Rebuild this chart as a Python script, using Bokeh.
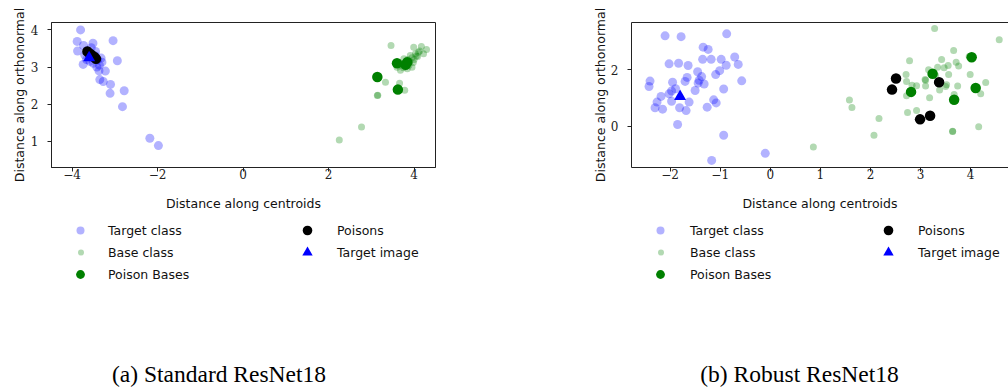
from bokeh.plotting import figure
from bokeh.models import (Range1d, FixedTicker, CustomJSTickFormatter, Legend,
                          LegendItem, Label, LinearAxis)
from bokeh.layouts import row, column
from bokeh.embed import file_html
from bokeh.resources import INLINE

# ---------------- data: (a) Standard ResNet18 ----------------
a_target_x = [-3.80, -3.88, -3.87, -3.73, -3.51, -3.04, -3.74, -2.94, -3.30, -3.22,
              -3.37, -3.35, -3.27, -3.10, -3.11, -2.78, -2.82, -2.18, -1.98,
              -3.65, -3.60, -3.55, -3.45, -3.40, -3.50, -3.66, -3.32, -3.36, -3.70,
              -3.45, -3.42, -3.58]
a_target_y = [4.00, 3.69, 3.43, 3.58, 3.64, 3.71, 3.07, 3.17, 3.13, 2.89,
              2.90, 2.66, 2.61, 2.53, 2.29, 2.36, 1.93, 1.08, 0.88,
              3.44, 3.35, 3.52, 3.30, 3.20, 3.10, 3.20, 3.24, 3.05, 3.32,
              3.42, 3.00, 3.15]
a_base_x = [3.46, 3.99, 4.17, 4.29, 4.13, 4.22, 4.03, 3.91, 3.76, 3.60, 3.68, 3.84,
            3.95, 3.33, 3.66, 3.78, 3.14, 3.15, 2.77, 2.25, 3.85, 3.95, 4.05, 3.70,
            3.80, 3.90, 4.10, 3.75, 3.65, 4.00, 3.88, 4.08, 3.98]
a_base_y = [3.58, 3.53, 3.55, 3.47, 3.43, 3.36, 3.36, 3.31, 3.22, 2.99, 2.91, 2.95,
            2.99, 2.59, 2.56, 2.37, 2.23, 2.24, 1.38, 1.03, 3.20, 3.25, 3.30, 3.05,
            3.10, 3.15, 3.40, 2.98, 3.12, 3.20, 3.05, 3.28, 3.12]
a_pbase_x = [3.60, 3.84, 3.80, 3.14, 3.62]
a_pbase_y = [3.10, 3.13, 3.06, 2.73, 2.39]
a_poison_x = [-3.64, -3.58, -3.53, -3.48, -3.44]
a_poison_y = [3.42, 3.36, 3.31, 3.27, 3.22]
a_timg_x = [-3.60]
a_timg_y = [3.25]
a_xticks = [-4, -2, 0, 2, 4]
a_yticks = [1, 2, 3, 4]

# ---------------- data: (b) Robust ResNet18 ----------------
b_target_x = [-2.10, -1.78, -0.87, -1.34, -1.24, -2.02, -1.83, -1.64, -1.35, -1.18,
              -0.98, -0.71, -0.88, -0.64, -1.45, -1.01, -1.09, -1.37, -1.66, -0.57,
              -2.40, -2.42, -1.95, -1.70, -1.44, -1.32, -1.50, -0.93, -2.18, -2.02,
              -1.89, -1.97, -2.26, -2.30, -2.15, -1.97, -1.62, -1.81, -1.68, -1.26,
              -1.13, -1.08, -1.85, -0.93, -1.17, -0.10, -1.42]
b_target_y = [3.19, 3.16, 3.26, 2.79, 2.71, 2.20, 2.22, 2.14, 2.36, 2.36,
              2.36, 2.44, 2.15, 2.18, 1.92, 1.96, 1.82, 1.75, 1.72, 1.60,
              1.59, 1.40, 1.55, 1.58, 1.52, 1.49, 1.26, 1.31, 1.05, 1.14,
              1.32, 1.24, 0.85, 0.65, 0.60, 0.88, 0.85, 0.65, 0.55, 0.67,
              0.93, 0.82, 0.06, -0.32, -1.21, -0.96, 1.62]
b_base_x = [3.28, 4.57, 3.66, 2.78, 3.42, 3.97, 3.76, 3.55, 3.47, 3.16, 3.34, 3.56,
            3.99, 2.71, 2.72, 2.92, 3.09, 3.10, 3.10, 3.38, 3.52, 3.50, 3.74, 4.30,
            4.20, 2.72, 3.18, 3.67, 2.74, 2.92, 1.58, 1.63, 2.17, 2.07, 0.86, 3.64,
            3.64, 4.16, 2.83, 3.71, 3.30]
b_base_y = [3.45, 3.05, 2.67, 2.31, 2.35, 2.46, 2.12, 2.14, 2.06, 1.99, 2.08, 1.82,
            1.82, 1.82, 1.58, 1.43, 1.65, 1.62, 1.42, 1.28, 1.46, 1.40, 1.42, 1.54,
            1.14, 1.07, 1.00, 1.12, 0.48, 0.55, 0.92, 0.66, 0.27, -0.32, -0.74, -0.18,
            -0.19, -0.02, 1.44, 2.26, 1.79]
b_pbase_x = [4.02, 3.24, 2.81, 4.10, 3.67]
b_pbase_y = [2.43, 1.85, 1.21, 1.35, 0.93]
b_poison_x = [2.51, 2.43, 3.37, 2.99, 3.19]
b_poison_y = [1.68, 1.29, 1.55, 0.24, 0.37]
b_timg_x = [-1.80]
b_timg_y = [1.05]
b_xticks = [-2, -1, 0, 1, 2, 3, 4]
b_yticks = [0, 2]

labels = ["Target class", "Base class", "Poison Bases", "Poisons", "Target image"]
captions = ["(a) Standard ResNet18", "(b) Robust ResNet18"]
xlabel = "Distance along centroids"
ylabel = "Distance along orthonormal"

SANS = "DejaVu Sans"
SERIF_TICK = "DejaVu Serif"
CAPTION_FONT = "Liberation Serif"

fmt_code = "return tick < 0 ? '\u2212' + Math.abs(tick) : String(tick);"

# series styles: (fill colour, alpha, size, marker)
STYLES = [
    ("blue", 0.3, 9, "circle"),
    ("green", 0.3, 7, "circle"),
    ("green", 1.0, 10.5, "circle"),
    ("black", 1.0, 10.5, "circle"),
    ("blue", 1.0, 12, "triangle"),
]

TOTAL_H = 387
TOP_H = 220
LEG_H = TOTAL_H - TOP_H
FRAME_TOP = 22
FRAME_BOTTOM = 167


def scatter_series(p, xs, ys, style):
    color, alpha, size, marker = style
    return p.scatter(xs, ys, size=size, marker=marker, fill_color=color,
                     fill_alpha=alpha, line_color=None)


def plot_panel(width, mbl, mbr, xr, yr, xticks, yticks, data, ylab_standoff,
               outline=True):
    p = figure(width=width, height=TOP_H, output_backend="svg", toolbar_location=None,
               title=None, x_range=Range1d(*xr), y_range=Range1d(*yr),
               min_border_left=mbl, min_border_right=mbr,
               min_border_top=FRAME_TOP, min_border_bottom=TOP_H - FRAME_BOTTOM)
    p.xgrid.visible = False
    p.ygrid.visible = False
    p.background_fill_color = "white"
    p.border_fill_color = "white"
    xax = p.below[0]
    yax = p.left[0]
    for ax, ticks in ((xax, xticks), (yax, yticks)):
        ax.ticker = FixedTicker(ticks=ticks)
        ax.formatter = CustomJSTickFormatter(code=fmt_code)
        ax.minor_tick_line_color = None
        ax.major_tick_out = 4
        ax.major_tick_in = 0
        ax.axis_line_color = "#222222"
        ax.major_tick_line_color = "#222222"
        ax.major_label_text_font = SERIF_TICK
        ax.major_label_text_font_size = "12px"
        ax.major_label_text_color = "#222222"
        ax.axis_label_text_font = SANS
        ax.axis_label_text_font_size = "12.5px"
        ax.axis_label_text_font_style = "normal"
        ax.axis_label_text_color = "#111111"
    xax.axis_label = xlabel
    yax.axis_label = ylabel
    xax.major_label_standoff = -3
    yax.major_label_standoff = 9
    xax.axis_label_standoff = 14
    yax.axis_label_standoff = ylab_standoff
    if outline:
        p.outline_line_color = "#222222"
        p.outline_line_width = 1
    else:
        p.outline_line_color = None
        top = LinearAxis(ticker=FixedTicker(ticks=[]), major_label_text_font_size="0px",
                         major_tick_out=0, major_tick_in=0, minor_tick_out=0,
                         minor_tick_in=0, axis_line_color="#222222")
        p.add_layout(top, "above")
    for i in range(5):
        scatter_series(p, data[2 * i], data[2 * i + 1], STYLES[i])
    return p


def legend_panel(width, mbl, mbr, data, offs, caption, cap_x):
    # legend + caption strip; its renderers reuse the series but lie outside its view
    q = figure(width=width, height=LEG_H, output_backend="svg", toolbar_location=None,
               title=None, x_axis_type=None, y_axis_type=None,
               min_border_left=mbl, min_border_right=mbr, min_border_top=0,
               min_border_bottom=0,
               x_range=Range1d(1000, 1001), y_range=Range1d(1000, 1001))
    q.xgrid.visible = False
    q.ygrid.visible = False
    q.outline_line_color = None
    q.background_fill_color = "white"
    q.border_fill_color = "white"
    rends = [scatter_series(q, data[2 * i], data[2 * i + 1], STYLES[i]) for i in range(5)]
    c1, l1, c2, l2 = offs
    r1, r2, r3 = (TOTAL_H - 230, TOTAL_H - 252, TOTAL_H - 274)
    # (marker centre x, row centre y from bottom, glyph w, glyph h, label x)
    specs = [
        (c1, r1, 20, 20, l1),
        (c1, r2, 15, 20, l1),
        (c1, r3, 22, 22, l1),
        (c2, r1, 24, 24, l2),
        (c2, r2, 26, 26, l2),
    ]
    for i, (cx, cy, gw, gh, lx) in enumerate(specs):
        h = max(gh, 20)
        lgx = int(round(cx - gw / 2))
        leg = Legend(items=[LegendItem(label=labels[i], renderers=[rends[i]])],
                     location=(lgx, int(round(cy - h / 2))), padding=0, margin=0,
                     spacing=0, glyph_width=gw, glyph_height=gh, label_height=20,
                     label_standoff=int(round(lx - lgx - gw)),
                     border_line_color=None, background_fill_alpha=0,
                     label_text_font=SANS, label_text_font_size="12.5px",
                     label_text_color="#111111")
        q.add_layout(leg, "center")
    q.add_layout(Label(x=cap_x, y=14, x_units="screen", y_units="screen",
                       text=caption, text_align="center", text_baseline="alphabetic",
                       text_font=CAPTION_FONT, text_font_size="23.5px",
                       text_color="black"))
    return q


a_data = (a_target_x, a_target_y, a_base_x, a_base_y, a_pbase_x, a_pbase_y,
          a_poison_x, a_poison_y, a_timg_x, a_timg_y)
b_data = (b_target_x, b_target_y, b_base_x, b_base_y, b_pbase_x, b_pbase_y,
          b_poison_x, b_poison_y, b_timg_x, b_timg_y)

pa = plot_panel(580, 51, 145, (-4.48, 4.5), (0.29, 4.2), a_xticks, a_yticks,
                a_data, 1, outline=True)
pb = plot_panel(428, 51, 0, (-2.77, 4.755), (-1.46, 3.66), b_xticks, b_yticks,
                b_data, 0, outline=False)
la = legend_panel(580, 51, 145, a_data, (29, 57, 256, 286), captions[0], 167.5)
lb = legend_panel(428, 51, 0, b_data, (29, 59, 257, 287), captions[1], 168)

layout = row(column(pa, la, spacing=0), column(pb, lb, spacing=0), spacing=0)
open("out.html", "w").write(file_html(layout, INLINE))
